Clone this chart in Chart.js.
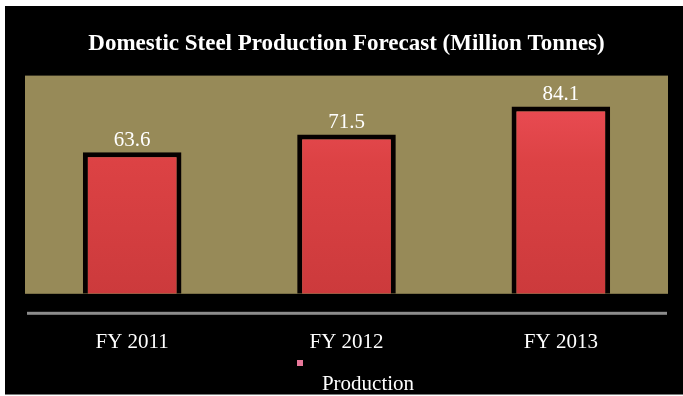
<!DOCTYPE html>
<html>
<head>
<meta charset="utf-8">
<title>Domestic Steel Production Forecast</title>
<script src="https://cdn.jsdelivr.net/npm/chart.js@4.4.1/dist/chart.umd.min.js"></script>
<style>
  html, body { margin: 0; padding: 0; background: #ffffff; }
  canvas { display: block; }
</style>
</head>
<body>
<canvas id="steelChart" width="683" height="396"></canvas>
<script>
const years = ['FY 2011', 'FY 2012', 'FY 2013'];
const production = [63.6, 71.5, 84.1];
const seriesName = 'Production';
const chartTitle = 'Domestic Steel Production Forecast (Million Tonnes)';

const serif = '"Liberation Serif", "DejaVu Serif", serif';

// black panel with a white edge, olive plot area and grey baseline
const framePlugin = {
    id: 'frame',
    beforeDraw(chart) {
        const ctx = chart.ctx;
        ctx.save();
        ctx.fillStyle = '#ffffff';
        ctx.fillRect(0, 0, chart.width, chart.height);
        ctx.fillStyle = '#000000';
        ctx.fillRect(5, 6, chart.width - 5, chart.height - 8);
        ctx.fillStyle = '#7a7a7a';
        ctx.fillRect(5, chart.height - 2, chart.width - 5, 1);
        ctx.restore();
    },
    beforeDatasetsDraw(chart) {
        const { ctx, chartArea } = chart;
        ctx.save();
        ctx.fillStyle = '#978a58';
        ctx.fillRect(chartArea.left, chartArea.top, chartArea.right - chartArea.left, chartArea.bottom - chartArea.top);
        ctx.fillStyle = '#8c8c8c';
        ctx.fillRect(chartArea.left + 2, chartArea.bottom + 18, chartArea.right - chartArea.left - 3, 3);
        ctx.restore();
    }
};

// value above each bar
const valueLabels = {
    id: 'valueLabels',
    afterDatasetsDraw(chart) {
        const ctx = chart.ctx;
        const meta = chart.getDatasetMeta(0);
        ctx.save();
        ctx.fillStyle = '#ffffff';
        ctx.font = '21px ' + serif;
        ctx.textAlign = 'center';
        ctx.textBaseline = 'middle';
        meta.data.forEach((bar, i) => {
            ctx.fillText(production[i].toFixed(1), bar.x, bar.y - 12);
        });
        ctx.restore();
    }
};

// small marker with the series name below the axis labels
const bottomLegend = {
    id: 'bottomLegend',
    afterDraw(chart) {
        const ctx = chart.ctx;
        ctx.save();
        ctx.fillStyle = '#e8789a';
        ctx.fillRect(297, 360, 6, 6);
        ctx.fillStyle = '#ffffff';
        ctx.font = '21px ' + serif;
        ctx.textAlign = 'center';
        ctx.textBaseline = 'middle';
        ctx.fillText(seriesName, 368, 384);
        ctx.restore();
    }
};

function barFill(context) {
    const area = context.chart.chartArea;
    if (!area) return '#d8423f';
    const g = context.chart.ctx.createLinearGradient(0, area.top, 0, area.bottom);
    g.addColorStop(0, '#f0505a');
    g.addColorStop(0.4, '#dc4244');
    g.addColorStop(1, '#cc3a3c');
    return g;
}

const ctx = document.getElementById('steelChart').getContext('2d');
const steelChart = new Chart(ctx, {
    type: 'bar',
    data: {
        labels: years,
        datasets: [{
            label: seriesName,
            data: production,
            backgroundColor: barFill,
            borderColor: '#050000',
            borderWidth: 5,
            categoryPercentage: 1,
            barPercentage: 0.46
        }]
    },
    options: {
        responsive: false,
        animation: false,
        devicePixelRatio: 1,
        layout: {
            padding: { left: 25, right: 15, top: 0, bottom: 5 }
        },
        plugins: {
            legend: { display: false },
            tooltip: { enabled: false },
            title: {
                display: true,
                text: chartTitle,
                color: '#ffffff',
                font: { family: serif, size: 23, weight: 'bold' },
                padding: { top: 30, bottom: 18 }
            }
        },
        scales: {
            x: {
                grid: { display: false, drawTicks: false },
                border: { display: false },
                ticks: {
                    color: '#ffffff',
                    font: { family: serif, size: 21 },
                    padding: 36
                }
            },
            y: {
                display: false,
                min: 0,
                max: 98
            }
        }
    },
    plugins: [framePlugin, valueLabels, bottomLegend]
});
</script>
</body>
</html>
